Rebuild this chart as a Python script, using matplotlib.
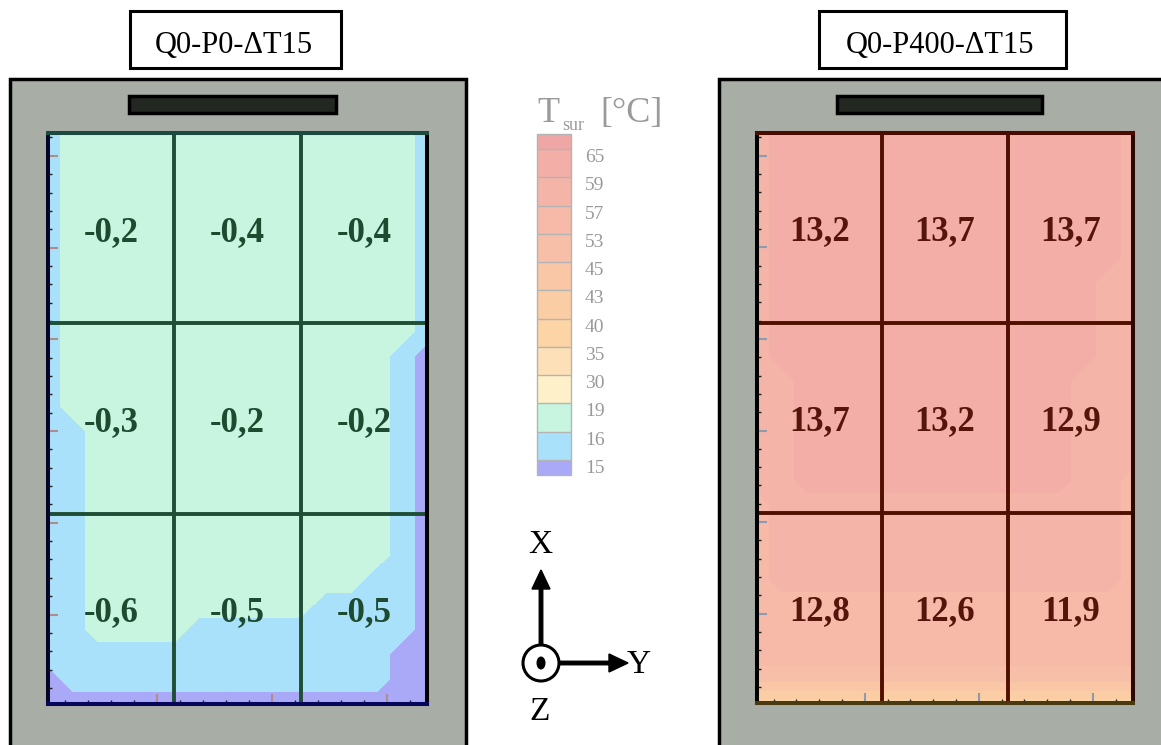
import numpy as np
import matplotlib
matplotlib.use('Agg')
import matplotlib.pyplot as plt
from matplotlib.patches import Rectangle, Circle, Ellipse
from matplotlib.colors import ListedColormap, BoundaryNorm
from matplotlib.cm import ScalarMappable

plt.rcParams['font.family'] = ['Liberation Serif', 'DejaVu Serif']

titles = ['Q0-P0-ΔT15', 'Q0-P400-ΔT15']

# mean values per cell, top row first, columns along Y
values_p0 = [['-0,2', '-0,4', '-0,4'],
             ['-0,3', '-0,2', '-0,2'],
             ['-0,6', '-0,5', '-0,5']]
values_p400 = [['13,2', '13,7', '13,7'],
               ['13,7', '13,2', '12,9'],
               ['12,8', '12,6', '11,9']]

# T_sur colour scale
tsur_bounds = [15, 16, 19, 30, 35, 40, 43, 45, 53, 57, 59, 65]
tsur_colors = ['#a9a9f7', '#aae1fa', '#c8f5e0', '#fef0c9', '#fde0b8', '#fcd4a5',
               '#fbcda5', '#f9c6a6', '#f8bfa8', '#f7b9a8', '#f5b4a8', '#f3aea7', '#efa7a6']

# surface field: one hex digit per grid point = colour band
# (0 = below 15 ... c = above 65), top row first
field_p0 = ['1222222222222221',
            '1222222222222221',
            '1222222222222221',
            '1222222222222221',
            '1222222222222221',
            '1222222222222221',
            '1222222222222221',
            '1222222222222221',
            '1222222222222221',
            '1222222222222210',
            '1222222222222210',
            '1222222222222210',
            '1122222222222210',
            '1122222222222210',
            '1122222222222210',
            '1122222222222210',
            '1122222222222210',
            '1122222222222210',
            '1122222222222110',
            '1122222222211110',
            '1122221111111110',
            '1111111111111100',
            '0111111111111100',
            '0000000000000000']
field_p400 = ['abbbbbbbbbbbbbba',
              'abbbbbbbbbbbbbba',
              'abbbbbbbbbbbbbba',
              'abbbbbbbbbbbbbba',
              'abbbbbbbbbbbbbba',
              'abbbbbbbbbbbbbba',
              'abbbbbbbbbbbbbaa',
              'abbbbbbbbbbbbbaa',
              'abbbbbbbbbbbbbaa',
              'abbbbbbbbbbbbbaa',
              'aabbbbbbbbbbbaaa',
              'aabbbbbbbbbbbaaa',
              'aabbbbbbbbbbbaaa',
              'aabbbbbbbbbbbaaa',
              'aabbbbbbbbbbbaa9',
              '9aaaaaaaaaaaaaa9',
              '9aaaaaaaaaaaaaa9',
              '9aaaaaaaaaaaaaa9',
              '9aaaaaaaaaaaaaa9',
              '9999999999999999',
              '9999999999999999',
              '9999999999999999',
              '8888888888888888',
              '5555555555555555']

W, H = 1161, 745


def px_rect(x0, y0, x1, y1):
    return [x0 / W, 1 - y1 / H, (x1 - x0) / W, (y1 - y0) / H]


fig = plt.figure(figsize=(W / 100, H / 100), dpi=100)
bg = fig.add_axes([0, 0, 1, 1])
bg.set_xlim(0, W)
bg.set_ylim(H, 0)
bg.axis('off')

# grey frames, heater bars, title boxes
for x0, x1 in [(9.5, 466), (718.5, 1200)]:
    bg.add_patch(Rectangle((x0, 78.5), x1 - x0, 700, fc='#a8ada6', ec='black', lw=2.5))
for x0, x1 in [(129, 336), (837, 1042)]:
    bg.add_patch(Rectangle((x0, 96), x1 - x0, 17, fc='#232722', ec='black', lw=2.5))
for (x0, x1), title in zip([(130, 341), (818.5, 1065.5)], titles):
    bg.add_patch(Rectangle((x0, 11), x1 - x0, 57, fc='white', ec='black', lw=2.2))
    bg.text((x0 + x1) / 2 - 2, 53, title, ha='center', va='baseline', fontsize=22)

# axes triad
bg.arrow(541, 645, 0, -75, width=3.5, head_width=18, head_length=19,
         length_includes_head=True, fc='black', ec='black')
bg.arrow(559, 663, 69, 0, width=3.5, head_width=18, head_length=19,
         length_includes_head=True, fc='black', ec='black')
bg.add_patch(Circle((541, 663), 18, fc='white', ec='black', lw=2.2))
bg.add_patch(Ellipse((541, 663), 9, 13, fc='black'))
bg.text(540, 545, 'X', ha='center', va='center', fontsize=24)
bg.text(639, 665, 'Y', ha='center', va='center', fontsize=24)
bg.text(540, 712, 'Z', ha='center', va='center', fontsize=24)


def draw_panel(rect, field, values, line_color, text_color, tick_color, spines):
    ax = fig.add_axes(rect)
    grid = np.array([[int(ch, 16) for ch in row] for row in field])
    ny, nx = grid.shape
    xs = np.linspace(0, 3, nx)
    ys = np.linspace(3, 0, ny)
    ax.contourf(xs, ys, grid, levels=np.arange(-0.5, 13), colors=tsur_colors)
    for k in (1, 2):
        ax.axvline(k, color=line_color, lw=2.8)
        ax.axhline(k, color=line_color, lw=2.8)
    for i, row in enumerate(values):
        for j, v in enumerate(row):
            ax.text(j + 0.5, 2.5 - i, v, ha='center', va='center_baseline',
                    fontsize=25, fontweight='bold', color=text_color)
    ax.set_xlim(0, 3)
    ax.set_ylim(0, 3)
    ax.set_yticks(np.arange(0.47, 3, 0.482))
    ax.set_yticks(np.arange(0.0844, 3, 0.0964), minor=True)
    ax.set_xticks(np.arange(0.86, 3, 0.91))
    ax.set_xticks(np.arange(0.132, 3, 0.182), minor=True)
    ax.tick_params(which='both', direction='in', labelleft=False, labelbottom=False)
    ax.tick_params(which='major', length=7, width=1.5, color=tick_color)
    ax.tick_params(which='minor', length=3, width=1, color='#202020')
    for side, c in spines.items():
        ax.spines[side].set_color(c)
        ax.spines[side].set_linewidth(2.9)
    return ax


draw_panel(px_rect(48, 133, 427, 704), field_p0, values_p0, '#1f4d35', '#1e4a30', '#b08c8c',
           {'left': '#05052a', 'top': '#1a4a40', 'right': 'black', 'bottom': '#06065a'})
draw_panel(px_rect(757, 133, 1133, 703), field_p400, values_p400, '#4f1000', '#55150a', '#8a9cae',
           {'left': 'black', 'top': '#4a0c00', 'right': '#2a0a00', 'bottom': '#4a3a12'})

# colour bar
cmap = ListedColormap(tsur_colors[1:-1]).with_extremes(under=tsur_colors[0], over=tsur_colors[-1])
norm = BoundaryNorm(tsur_bounds, cmap.N)
cax = fig.add_axes(px_rect(537, 134, 571, 475))
cb = fig.colorbar(ScalarMappable(norm=norm, cmap=cmap), cax=cax, extend='both',
                  extendrect=True, extendfrac=0.048, spacing='uniform', drawedges=True)
cb.set_ticks(tsur_bounds)
cb.outline.set_edgecolor('#b4b4b4')
cb.outline.set_linewidth(1)
cb.dividers.set_color('#b4b4b4')
cb.dividers.set_linewidth(1)
cax.tick_params(length=0, pad=10, labelsize=14, labelcolor='#9a9a9a')
for t in cax.get_yticklabels():
    t.set_va('top')
bg.text(537, 122, 'T', ha='left', va='baseline', fontsize=26, color='#9a9a9a')
bg.text(562, 130, 'sur', ha='left', va='baseline', fontsize=13, color='#9a9a9a')
bg.text(600, 122, '[°C]', ha='left', va='baseline', fontsize=26, color='#9a9a9a')

fig.savefig('out.png', dpi=100)
